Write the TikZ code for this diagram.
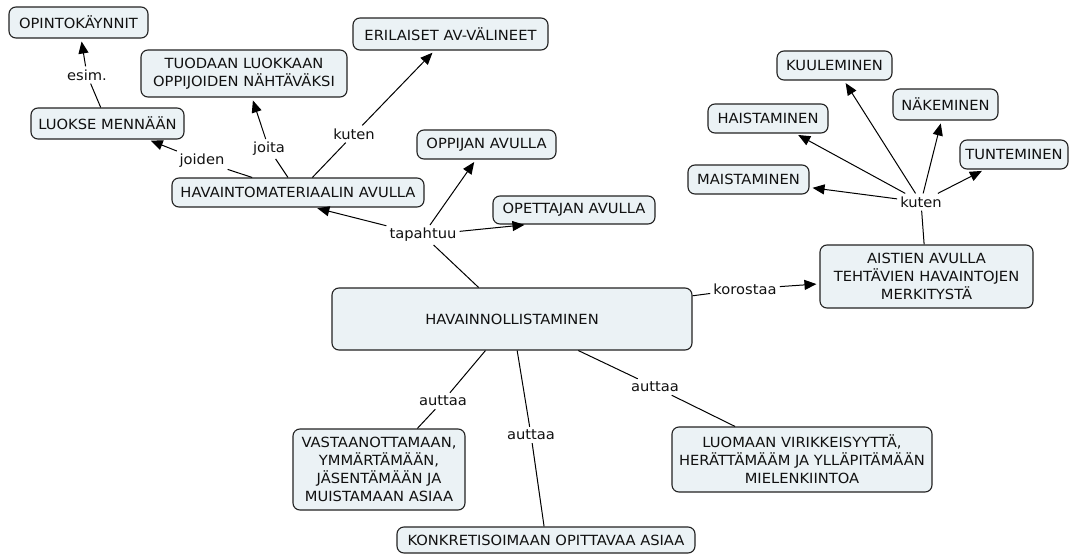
\documentclass[tikz,border=0pt]{standalone}
\usepackage{fontspec}
\setmainfont{DejaVu Sans}[FakeStretch=1.05]
\usetikzlibrary{arrows.meta}
\definecolor{boxfill}{HTML}{EBF2F5}
\definecolor{boxline}{HTML}{222222}
\definecolor{txt}{HTML}{111111}
\tikzset{
  concept/.style={draw=boxline, line width=1.1pt, fill=boxfill, rounded corners=7pt,
    align=center, inner sep=2pt, text=txt, font=\fontsize{14}{17.8}\selectfont},
  lab/.style={inner sep=3pt, text=txt, font=\fontsize{14}{16}\selectfont},
  ln/.style={draw=black, line width=1pt},
  arr/.style={ln, -{Triangle[length=12pt,width=10pt]}, shorten >=3pt}
}
\begin{document}
\begin{tikzpicture}[x=1pt,y=-1pt]
\fill[white] (0,0) rectangle (1074,554);
\useasboundingbox (0,0) rectangle (1074,554);

% concepts
\node[concept, minimum width=139pt, minimum height=31pt] (opinto) at (78.5,22.5) {OPINTOKÄYNNIT};
\node[concept, minimum width=206pt, minimum height=47pt] (tuodaan) at (244,73.5) {TUODAAN LUOKKAAN\\OPPIJOIDEN NÄHTÄVÄKSI};
\node[concept, minimum width=195pt, minimum height=32pt] (erilaiset) at (450.5,34) {ERILAISET AV-VÄLINEET};
\node[concept, minimum width=153pt, minimum height=31pt] (luokse) at (107.5,123.5) {LUOKSE MENNÄÄN};
\node[concept, minimum width=252pt, minimum height=29pt] (hav) at (298,192.5) {HAVAINTOMATERIAALIN AVULLA};
\node[concept, minimum width=139pt, minimum height=29pt] (oppijan) at (486.5,144.5) {OPPIJAN AVULLA};
\node[concept, minimum width=162pt, minimum height=28pt] (opettajan) at (574,210) {OPETTAJAN AVULLA};
\node[concept, minimum width=360pt, minimum height=62pt] (main) at (512,319) {HAVAINNOLLISTAMINEN};
\node[concept, minimum width=213pt, minimum height=63pt] (aistien) at (926.5,276.5) {AISTIEN AVULLA\\TEHTÄVIEN HAVAINTOJEN\\MERKITYSTÄ};
\node[concept, minimum width=115pt, minimum height=29pt] (kuul) at (834.5,65.5) {KUULEMINEN};
\node[concept, minimum width=105pt, minimum height=31pt] (nake) at (945.5,104.5) {NÄKEMINEN};
\node[concept, minimum width=120pt, minimum height=29pt] (haist) at (768,118.5) {HAISTAMINEN};
\node[concept, minimum width=108pt, minimum height=29pt] (tunt) at (1014,154.5) {TUNTEMINEN};
\node[concept, minimum width=121pt, minimum height=29pt] (maist) at (748.5,179.5) {MAISTAMINEN};
\node[concept, minimum width=172pt, minimum height=81pt] (vast) at (379,469.5) {VASTAANOTTAMAAN,\\YMMÄRTÄMÄÄN,\\JÄSENTÄMÄÄN JA\\MUISTAMAAN ASIAA};
\node[concept, minimum width=298pt, minimum height=26pt] (konk) at (546,540) {KONKRETISOIMAAN OPITTAVAA ASIAA};
\node[concept, minimum width=260pt, minimum height=65pt] (luomaan) at (802,459.5) {LUOMAAN VIRIKKEISYYTTÄ,\\HERÄTTÄMÄÄM JA YLLÄPITÄMÄÄN\\MIELENKIINTOA};

% linking phrases
\node[lab] (esim) at (87,75) {esim.};
\node[lab] (joiden) at (202,161) {joiden};
\node[lab] (joita) at (269,149) {joita};
\node[lab] (kuten1) at (354,134) {kuten};
\node[lab] (tap) at (423,235) {tapahtuu};
\node[lab] (kor) at (745,289) {korostaa};
\node[lab] (kuten2) at (921,202) {kuten};
\node[lab] (aut1) at (443,401) {auttaa};
\node[lab] (aut2) at (531,435) {auttaa};
\node[lab] (aut3) at (655,387) {auttaa};

% connectors
\draw[ln] (luokse) -- (esim);
\draw[arr] (esim) -- (opinto);
\draw[ln] (hav) -- (joiden);
\draw[arr] (joiden) -- (luokse);
\draw[ln] (hav) -- (joita);
\draw[arr] (joita) -- (tuodaan);
\draw[ln] (hav) -- (kuten1);
\draw[arr] (kuten1) -- (erilaiset);
\draw[ln] (main) -- (tap);
\draw[arr] (tap) -- ([xshift=143pt]hav.south west);
\draw[arr] (tap) -- (oppijan);
\draw[arr] (tap) -- ([xshift=35pt]opettajan.south west);
\draw[ln] (main) -- (kor);
\draw[arr] (kor) -- (aistien);
\draw[ln] (aistien) -- (kuten2);
\draw[arr] (kuten2) -- (maist);
\draw[arr] (kuten2) -- (haist);
\draw[arr] (kuten2) -- (kuul);
\draw[arr] (kuten2) -- (nake);
\draw[arr] (kuten2) -- (tunt);
\draw[ln] (main) -- (aut1);
\draw[ln] (aut1) -- (vast);
\draw[ln] (main) -- (aut2);
\draw[ln] (aut2) -- (konk);
\draw[ln] (main) -- (aut3);
\draw[ln] (aut3) -- (luomaan);
\end{tikzpicture}
\end{document}
